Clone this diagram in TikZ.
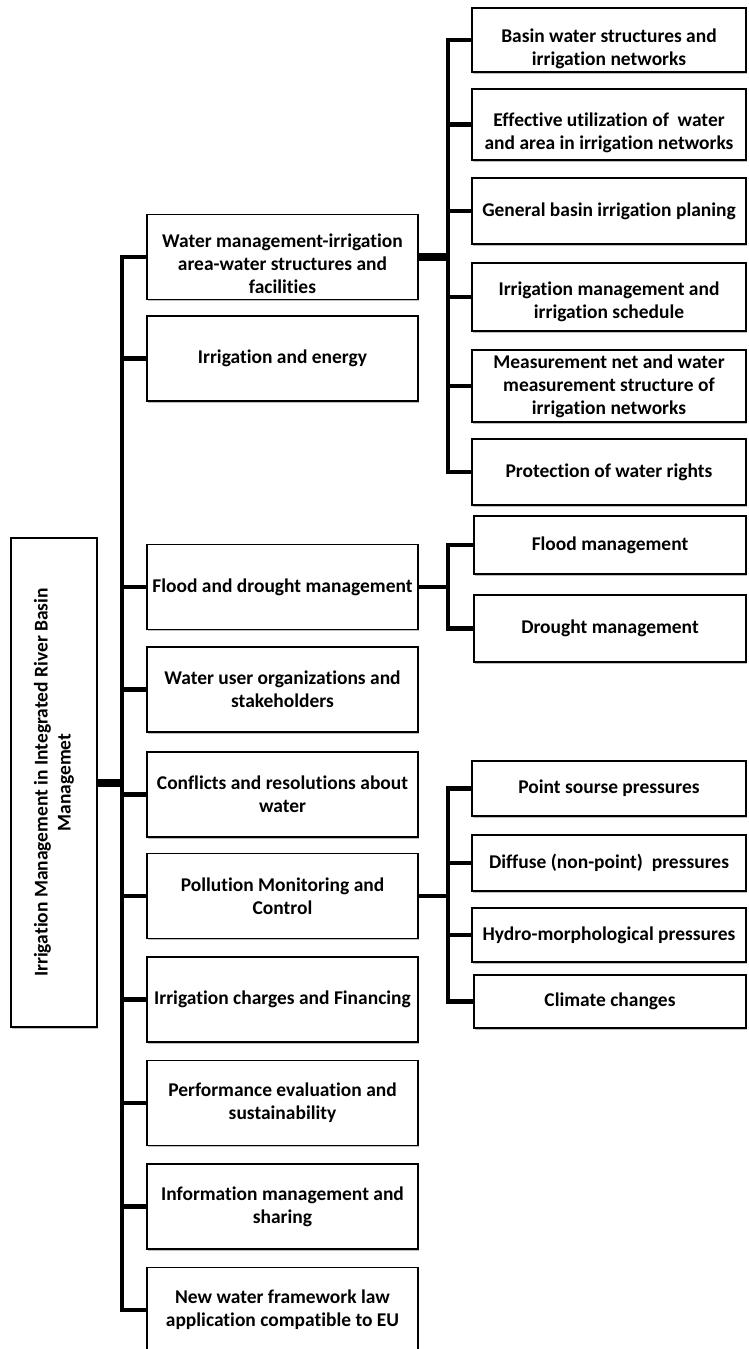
\documentclass[tikz,border=0pt]{standalone}
\usepackage{fontspec}
\setmainfont{Carlito}[Ligatures=NoCommon]
\usetikzlibrary{shadows}

\newcommand{\pushdown}[1]{\rule{0pt}{#1}}

\tikzset{every picture/.style={line width=0.75pt}}
\tikzset{
  box/.style={draw, line width=0.9pt, fill=white, align=center, inner sep=1pt,
    font=\fontsize{14.6}{17.25}\selectfont\bfseries,
    drop shadow={shadow xshift=0.6pt, shadow yshift=-1.2pt, opacity=0.25, fill=black}},
  midbox/.style={box, minimum width=203.25pt, minimum height=63.75pt},
  leafbox/.style={box, minimum width=205.5pt},
  trunk/.style={line width=3.6pt, line join=miter},
  fatlink/.style={line width=6pt},
}

\begin{document}
\begin{tikzpicture}[x=0.75pt,y=0.75pt,yscale=-1,xscale=1]
%set diagram size 749 x 1349
\useasboundingbox (0,0) rectangle (749,1349);

%Shape: Rectangle [root]
\node[box, rotate=90, minimum width=366.75pt, minimum height=64.5pt] (root) at (54,782.5)
  {Irrigation Management in Integrated River Basin\\Managemet};

%Shape: Rectangle [level 1]
\node[midbox] (wm) at (282.5,257) {\pushdown{21pt}Water management-irrigation\\area-water structures and\\facilities};
\node[midbox] (en) at (282.5,358.5) {Irrigation and energy};
\node[midbox] (fd) at (282.5,587) {Flood and drought management};
\node[midbox] (wu) at (282.5,689.5) {Water user organizations and\\stakeholders};
\node[midbox] (cr) at (282.5,794.5) {Conflicts and resolutions about\\water};
\node[midbox] (pm) at (282.5,896) {Pollution Monitoring and\\Control};
\node[midbox] (ch) at (282.5,999.5) {Irrigation charges and Financing};
\node[midbox] (pe) at (282.5,1103) {Performance evaluation and\\sustainability};
\node[midbox] (im) at (282.5,1206.5) {Information management and\\sharing};
\node[midbox] (nw) at (282.5,1310) {New water framework law\\application compatible to EU};

%Shape: Rectangle [water structures]
\node[leafbox, minimum height=48pt] (ws1) at (609,40) {\pushdown{23pt}Basin water structures and\\irrigation networks};
\node[leafbox, minimum height=53.25pt] (ws2) at (609,124.5) {\pushdown{22pt}Effective utilization of \ water\\and area in irrigation networks};
\node[leafbox, minimum height=49.5pt] (ws3) at (609,211) {General basin irrigation planing};
\node[leafbox, minimum height=51pt] (ws4) at (609,297) {\pushdown{18pt}Irrigation management and\\irrigation schedule};
\node[leafbox, minimum height=54pt] (ws5) at (609,386) {Measurement net and water\\measurement structure of\\irrigation networks};
\node[leafbox, minimum height=49.5pt] (ws6) at (609,472) {Protection of water rights};

%Shape: Rectangle [flood and drought]
\node[leafbox, minimum width=204pt, minimum height=43.5pt] (fl) at (610,545) {Flood management};
\node[leafbox, minimum width=204pt, minimum height=50.25pt] (dr) at (610,628.5) {Drought management};

%Shape: Rectangle [pollution]
\node[leafbox, minimum height=41.25pt] (pp1) at (609,788.5) {Point sourse pressures};
\node[leafbox, minimum height=42pt] (pp2) at (609,863) {Diffuse (non-point) \ pressures};
\node[leafbox, minimum height=40.5pt] (pp3) at (609,935) {Hydro-morphological pressures};
\node[leafbox, minimum width=204pt, minimum height=39.75pt] (pp4) at (610,1001.5) {Climate changes};

%Straight Lines [main trunk]
\coordinate (mt) at (122,257);
\draw[trunk] (wm.west) -- (wm.west -| mt) -- (nw.west -| mt) -- (nw.west);
\foreach \n in {en,fd,wu,cr,pm,ch,pe,im}
  \draw[trunk] (\n.west -| mt) -- (\n.west);
\draw[fatlink] (root.south) -- (root.south -| mt);

%Straight Lines [water structures trunk]
\coordinate (at) at (448,40);
\draw[fatlink] (wm.east) -- (wm.east -| at);
\draw[trunk] (ws1.west) -- (ws1.west -| at) -- (ws6.west -| at) -- (ws6.west);
\foreach \n in {ws2,ws3,ws4,ws5}
  \draw[trunk] (\n.west -| at) -- (\n.west);

%Straight Lines [flood trunk]
\draw[trunk] (fd.east) -- (fd.east -| at);
\draw[trunk] (fl.west) -- (fl.west -| at) -- (dr.west -| at) -- (dr.west);

%Straight Lines [pollution trunk]
\draw[trunk] (pm.east) -- (pm.east -| at);
\draw[trunk] (pp1.west) -- (pp1.west -| at) -- (pp4.west -| at) -- (pp4.west);
\foreach \n in {pp2,pp3}
  \draw[trunk] (\n.west -| at) -- (\n.west);

\end{tikzpicture}
\end{document}
